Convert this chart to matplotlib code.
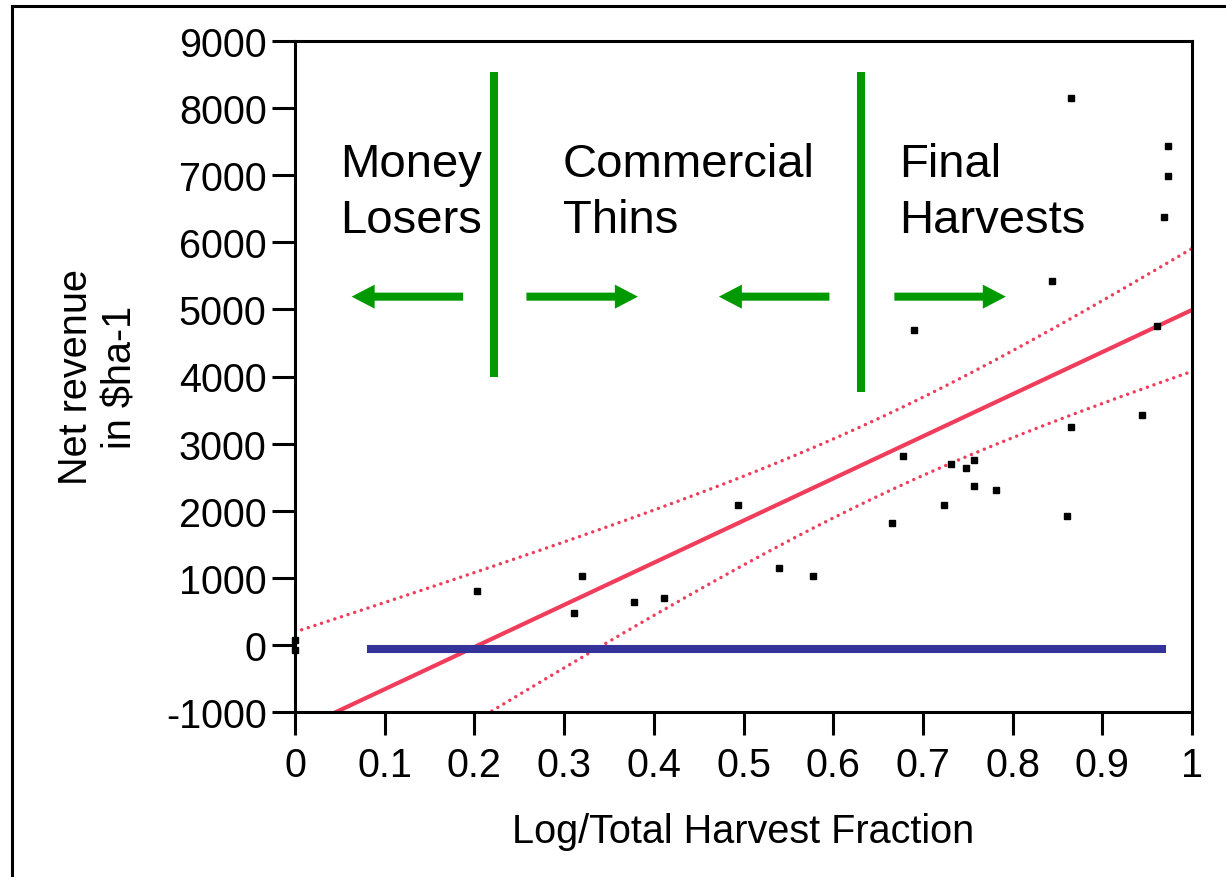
import numpy as np
import matplotlib
matplotlib.use("Agg")
import matplotlib.pyplot as plt
from matplotlib.lines import Line2D

plt.rcParams['font.family'] = ['Liberation Sans', 'DejaVu Sans']
plt.rcParams['axes.unicode_minus'] = False

# harvest fraction vs net revenue
harvest_frac = [0.0, 0.0, 0.203, 0.320, 0.311, 0.378, 0.411, 0.494, 0.540, 0.578,
                0.665, 0.678, 0.690, 0.7235, 0.7316, 0.748, 0.757, 0.757, 0.782,
                0.844, 0.861, 0.865, 0.865, 0.944, 0.961, 0.969, 0.973, 0.973]
net_revenue = [75, -80, 800, 1030, 470, 640, 700, 2085, 1145, 1030,
               1810, 2810, 4700, 2085, 2695, 2640, 2755, 2365, 2310,
               5430, 1920, 8155, 3250, 3420, 4755, 6370, 6985, 7430]

# fitted line and 95% band
fit_intercept = -1288
fit_slope = 6280
band_center = 0.657
band_min = 576
band_spread = 2076

# break-even line
zero_line_x = [0.08, 0.971]
zero_line_y = -60

# zone dividers and labels
divider_x = [0.2216, 0.6314]
divider_top = 8540
divider_bottom = [3990, 3770]
zone_labels = ["Money\nLosers", "Commercial\nThins", "Final\nHarvests"]
zone_label_x = [0.0501, 0.2988, 0.6737]
arrow_tail = [0.1874, 0.2580, 0.5958, 0.6682]
arrow_tip = [0.0631, 0.3823, 0.4725, 0.7925]
arrow_y = 5190

red = '#EF3D5B'
green = '#009900'
blue = '#333399'

fig = plt.figure(figsize=(12.26, 8.78), dpi=100)
ax = fig.add_axes([295 / 1226, 1 - 713 / 878, 897 / 1226, 671 / 878])

xs = np.linspace(0, 1, 300)
fit = fit_intercept + fit_slope * xs
half = np.sqrt(band_min ** 2 + band_spread ** 2 * (xs - band_center) ** 2)
ax.plot(xs, fit, color=red, lw=3)
for band in (fit + half, fit - half):
    ax.plot(xs, band, color=red, lw=2.5, linestyle=(0, (0.01, 2.0)),
            dash_capstyle='round')

ax.plot(zero_line_x, [zero_line_y, zero_line_y], color=blue, lw=5.8,
        solid_capstyle='butt')

ax.plot(harvest_frac, net_revenue, 's', color='black', markersize=4.8,
        clip_on=False, zorder=5)

for xd, yb in zip(divider_x, divider_bottom):
    ax.plot([xd, xd], [divider_top, yb], color=green, lw=5.8,
            solid_capstyle='butt')

for t, tp in zip(arrow_tail, arrow_tip):
    ax.annotate('', xy=(tp, arrow_y), xytext=(t, arrow_y),
                arrowprops=dict(arrowstyle='simple,head_length=16.6,head_width=17.3,tail_width=5.8',
                                mutation_scale=1, color=green, lw=0,
                                shrinkA=0, shrinkB=0))

for lab, lx in zip(zone_labels, zone_label_x):
    ax.text(lx, 7500, lab, fontsize=34, va='top', ha='left', linespacing=1.36)

ax.set_xlim(0, 1)
ax.set_ylim(-1000, 9000)
ax.set_xticks(np.arange(0, 1.01, 0.1))
ax.set_xticklabels(['0', '0.1', '0.2', '0.3', '0.4', '0.5', '0.6', '0.7', '0.8', '0.9', '1'])
ax.set_yticks(np.arange(-1000, 9001, 1000))
for s in ax.spines.values():
    s.set_linewidth(2.2)
ax.tick_params(axis='both', length=16.5, width=2.2, labelsize=28.5)
ax.tick_params(axis='x', pad=8)
ax.tick_params(axis='y', pad=4)

fig.text(743 / 1226, 1 - 832 / 878, "Log/Total Harvest Fraction",
         fontsize=28.5, ha='center', va='center')
fig.text(98 / 1226, 1 - 377 / 878, "Net revenue\nin $ha-1", fontsize=28.5,
         rotation=90, ha='center', va='center', multialignment='center')

# outer frame (only left and top edges show)
fig.add_artist(Line2D([12 / 1226, 12 / 1226], [0, 1 - 7 / 878], color='black', lw=2.2))
fig.add_artist(Line2D([12 / 1226, 1], [1 - 7 / 878, 1 - 7 / 878], color='black', lw=2.2))

fig.savefig('out.png', dpi=100)
